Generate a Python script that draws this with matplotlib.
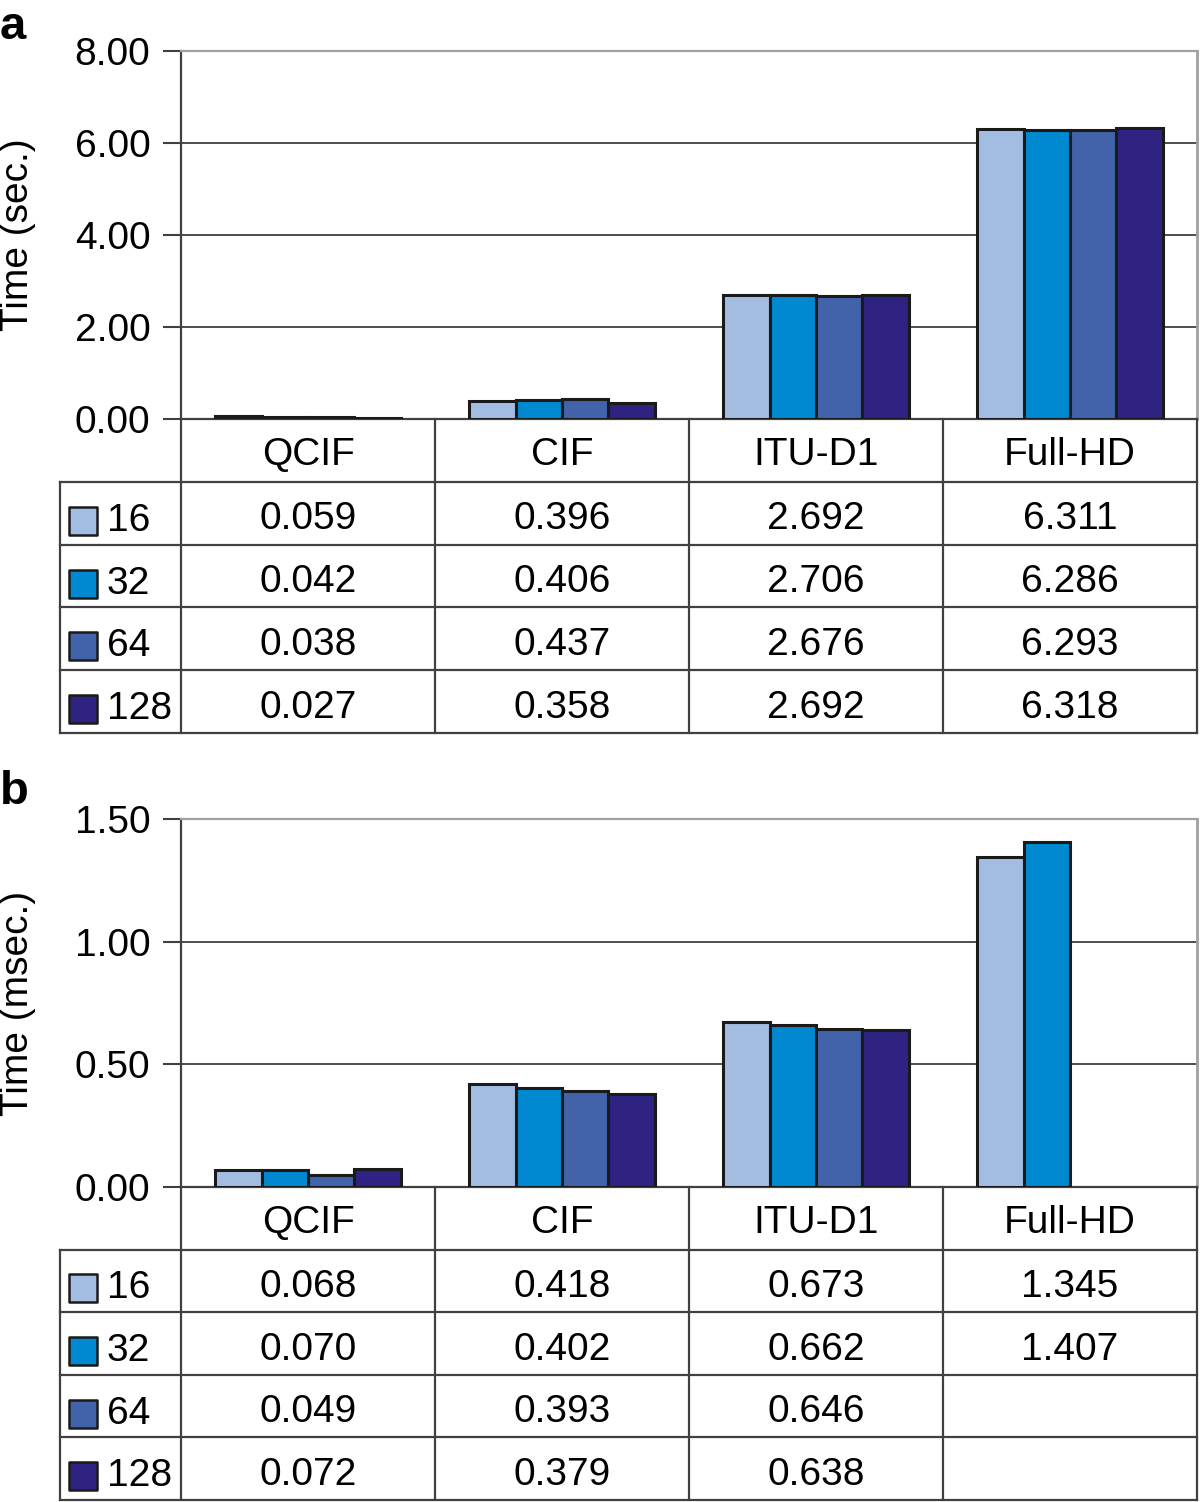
import numpy as np
import matplotlib.pyplot as plt

plt.rcParams['font.family'] = ['Liberation Sans', 'DejaVu Sans']

categories = ["QCIF", "CIF", "ITU-D1", "Full-HD"]
series = ["16", "32", "64", "128"]
colors = ["#a3bde2", "#0089d1", "#4263aa", "#2e2380"]

# panel a, seconds
sec_16 = [0.059, 0.396, 2.692, 6.311]
sec_32 = [0.042, 0.406, 2.706, 6.286]
sec_64 = [0.038, 0.437, 2.676, 6.293]
sec_128 = [0.027, 0.358, 2.692, 6.318]

# panel b, milliseconds (Full-HD missing for 64 and 128)
ms_16 = [0.068, 0.418, 0.673, 1.345]
ms_32 = [0.070, 0.402, 0.662, 1.407]
ms_64 = [0.049, 0.393, 0.646, None]
ms_128 = [0.072, 0.379, 0.638, None]

W, H = 1200, 1502
fig = plt.figure(figsize=(W / 100, H / 100), dpi=100)

FS = 28
LC = "#404040"
bar_w = 0.183


def px_axes(x0, y0, x1, y1):
    return fig.add_axes([x0 / W, 1 - y1 / H, (x1 - x0) / W, (y1 - y0) / H])


def panel(top, bottom, tbottom, data, ymax, step, ylabel, letter, letter_y):
    ax = px_axes(181, top, 1197, bottom)
    x = np.arange(len(categories))
    for i, (vals, c) in enumerate(zip(data, colors)):
        v = np.array([np.nan if d is None else d for d in vals], dtype=float)
        ax.bar(x + (i - 1.5) * bar_w, v, bar_w, color=c, edgecolor="#1a1a1a",
               linewidth=2.2, zorder=3)
    ax.set_xlim(-0.5, 3.5)
    ax.set_ylim(0, ymax)
    ticks = np.arange(0, ymax + step / 2, step)
    ax.set_yticks(ticks)
    ax.set_yticklabels(["%.2f" % t for t in ticks], fontsize=FS)
    ax.tick_params(axis="y", length=13, width=1.5, color=LC, pad=9)
    ax.set_xticks([])
    ax.yaxis.grid(True, color=LC, linewidth=1.3, zorder=0)
    ax.spines["left"].set_color(LC)
    ax.spines["left"].set_linewidth(1.6)
    ax.spines["bottom"].set_color(LC)
    ax.spines["bottom"].set_linewidth(1.6)
    ax.spines["top"].set_color("#a0a0a0")
    ax.spines["top"].set_linewidth(1.6)
    ax.spines["right"].set_color("#a0a0a0")
    ax.spines["right"].set_linewidth(2)
    ax.set_ylabel(ylabel, fontsize=FS)
    ax.yaxis.set_label_coords((36 - 181) / 1016, 0.5)

    # data table below the axis
    tb = px_axes(60, bottom, 1197, tbottom)
    left = 3.5 - (1197 - 60) / 254
    tb.set_xlim(left, 3.5)
    tb.set_ylim(0, 5)
    tb.axis("off")
    for xb in [-0.5, 0.5, 1.5, 2.5, 3.5]:
        tb.plot([xb, xb], [0, 5], color=LC, lw=1.6, clip_on=False)
    tb.plot([left, left], [0, 4], color=LC, lw=1.6, clip_on=False)
    for yb in range(0, 5):
        tb.plot([left, 3.5], [yb, yb], color=LC, lw=1.6, clip_on=False)
    for j, cat in enumerate(categories):
        tb.text(j, 4.42, cat, ha="center", va="center", fontsize=FS)
    for i, (name, vals, c) in enumerate(zip(series, data, colors)):
        yc = 3.5 - i
        tb.scatter([left + 23 / 254], [yc - 0.12], marker="s", s=20 ** 2,
                   color=c, edgecolor="#1a1a1a", linewidth=1.8, clip_on=False)
        tb.text(left + 47 / 254, yc - 0.12, name, ha="left", va="center",
                fontsize=FS)
        for j, v in enumerate(vals):
            if v is not None:
                tb.text(j, yc - 0.1, "%.3f" % v, ha="center", va="center",
                        fontsize=FS)

    fig.text(0 / W, 1 - letter_y / H, letter, fontsize=FS + 6,
             fontweight="bold", ha="left", va="center")


panel(51, 419, 733, [sec_16, sec_32, sec_64, sec_128], 8, 2,
      "Time (sec.)", "a", 27)
panel(819, 1187, 1500, [ms_16, ms_32, ms_64, ms_128], 1.5, 0.5,
      "Time (msec.)", "b", 792)

fig.savefig("out.png", dpi=100)
